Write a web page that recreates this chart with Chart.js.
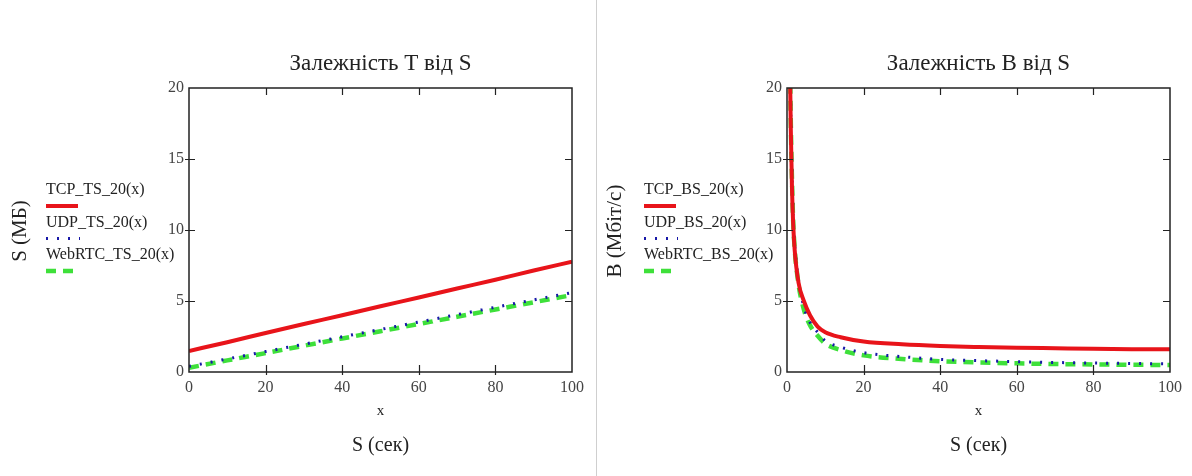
<!DOCTYPE html>
<html>
<head>
<meta charset="utf-8">
<script src="https://cdn.jsdelivr.net/npm/chart.js@4.4.1/dist/chart.umd.min.js"></script>
<style>
  body { margin: 0; background: #fff; width: 1192px; height: 476px; overflow: hidden; position: relative; }
  #left { position: absolute; left: 0; top: 0; }
  #right { position: absolute; left: 598px; top: 0; }
  #sep { position: absolute; left: 596px; top: 0; width: 1px; height: 476px; background: #cfcfcf; }
</style>
</head>
<body>
<canvas id="left" width="596" height="476"></canvas>
<div id="sep"></div>
<canvas id="right" width="594" height="476"></canvas>
<script>
// values
const sLeft = [0, 10, 20, 30, 40, 50, 60, 70, 80, 90, 100];
const tcpTS = [1.48, 2.1, 2.75, 3.38, 4.0, 4.63, 5.25, 5.88, 6.5, 7.15, 7.77];
const udpTS = [0.4, 0.92, 1.44, 1.96, 2.48, 3.0, 3.52, 4.04, 4.56, 5.08, 5.59];
const webrtcTS = [0.3, 0.82, 1.33, 1.85, 2.36, 2.87, 3.38, 3.89, 4.4, 4.91, 5.42];

const sRight = [0.8, 1, 1.3, 1.6, 2, 3, 4.4, 6, 8, 10, 14, 20, 30, 40, 50, 60, 70, 80, 90, 100];
const tcpBS = [21, 17, 13, 10.5, 8.6, 6.3, 5.0, 4.0, 3.2, 2.8, 2.45, 2.15, 1.95, 1.83, 1.76, 1.71, 1.67, 1.63, 1.61, 1.6];
const udpBS = [22, 18, 14, 11, 9, 6.5, 4.6, 3.5, 2.8, 2.2, 1.75, 1.36, 1.08, 0.89, 0.8, 0.73, 0.67, 0.63, 0.6, 0.58];
const webrtcBS = [21.5, 17.5, 13.6, 10.7, 8.7, 6.2, 4.4, 3.3, 2.55, 2.0, 1.55, 1.17, 0.92, 0.76, 0.67, 0.61, 0.56, 0.53, 0.51, 0.49];

const xStep = 20, xMax = 100;
const yStep = 5, yMax = 20;

const SERIF = '"Liberation Serif", "DejaVu Serif", serif';
const RED = '#e8141a', BLUE = '#1818a8', GREEN = '#3ee03a';

const pts = (xs, ys) => xs.map((x, i) => ({ x: x, y: ys[i] }));

// mathcad-like frame, titles and legend
const mcadPlugin = {
  id: 'mcad',
  afterDraw(chart, args, opts) {
    const { ctx, chartArea: { left, right, top, bottom }, scales: { x, y } } = chart;
    ctx.save();
    ctx.strokeStyle = '#222';
    ctx.lineWidth = 1.5;
    ctx.strokeRect(left, top, right - left, bottom - top);
    ctx.lineWidth = 1.2;
    ctx.beginPath();
    x.ticks.forEach(t => {
      const px = Math.round(x.getPixelForValue(t.value)) + 0.5;
      if (px <= left + 2 || px >= right - 2) return;
      ctx.moveTo(px, bottom + 3); ctx.lineTo(px, bottom - 7);
      ctx.moveTo(px, top); ctx.lineTo(px, top + 7);
    });
    y.ticks.forEach(t => {
      const py = Math.round(y.getPixelForValue(t.value)) + 0.5;
      if (py <= top + 2 || py >= bottom - 2) return;
      ctx.moveTo(left - 4, py); ctx.lineTo(left + 6, py);
      ctx.moveTo(right, py); ctx.lineTo(right - 7, py);
    });
    ctx.stroke();

    const cx = (left + right) / 2;
    ctx.fillStyle = '#222';
    ctx.textAlign = 'center';
    ctx.textBaseline = 'middle';
    ctx.font = '23px ' + SERIF;
    ctx.fillText(opts.title, cx, 64);
    ctx.font = '15px ' + SERIF;
    ctx.fillText('x', cx, 411);
    ctx.font = '20px ' + SERIF;
    ctx.fillText('S (сек)', cx, 446);

    ctx.save();
    ctx.translate(opts.yTitleX, 231);
    ctx.rotate(-Math.PI / 2);
    ctx.font = '21px ' + SERIF;
    ctx.fillText(opts.yTitle, 0, 0);
    ctx.restore();

    // legend: label above its line sample
    ctx.textAlign = 'left';
    ctx.font = '16px ' + SERIF;
    chart.data.datasets.forEach((ds, i) => {
      const ty = 190 + i * 32.5;
      ctx.fillStyle = '#222';
      ctx.fillText(ds.label, 46, ty);
      ctx.save();
      ctx.strokeStyle = ds.borderColor;
      ctx.lineWidth = ds.borderWidth;
      ctx.setLineDash(ds.borderDash || []);
      ctx.beginPath();
      ctx.moveTo(46, ty + 16);
      ctx.lineTo(i === 0 ? 78 : 80, ty + 16);
      ctx.stroke();
      ctx.restore();
    });
    ctx.restore();
  }
};

const makeChart = (node, xs, tcp, udp, web, names, title, yTitle, yTitleX) => {
  return new Chart(node, {
    type: 'line',
    data: {
      datasets: [
        { label: names[0], data: pts(xs, tcp), borderColor: RED, borderWidth: 4, pointRadius: 0, cubicInterpolationMode: 'monotone' },
        { label: names[1], data: pts(xs, udp), borderColor: BLUE, borderWidth: 3, borderDash: [2, 9], pointRadius: 0, cubicInterpolationMode: 'monotone' },
        { label: names[2], data: pts(xs, web), borderColor: GREEN, borderWidth: 4.5, borderDash: [10, 7], pointRadius: 0, cubicInterpolationMode: 'monotone' }
      ]
    },
    plugins: [mcadPlugin],
    options: {
      responsive: false,
      animation: false,
      layout: { padding: { left: 0, top: 88, right: node.width - 189 - 383, bottom: 0 } },
      plugins: {
        legend: { display: false },
        tooltip: { enabled: false },
        mcad: { title: title, yTitle: yTitle, yTitleX: yTitleX }
      },
      scales: {
        x: {
          type: 'linear',
          min: 0,
          max: xMax,
          afterFit: (s) => { s.height = 104; },
          grid: { display: false, drawTicks: false },
          border: { display: false },
          ticks: { stepSize: xStep, color: '#444', padding: 6, font: { family: SERIF, size: 16 } }
        },
        y: {
          min: 0,
          max: yMax,
          afterFit: (s) => { s.width = 189; },
          grid: { display: false, drawTicks: false },
          border: { display: false },
          ticks: { stepSize: yStep, color: '#444', padding: 5, font: { family: SERIF, size: 16 } }
        }
      }
    }
  });
};

makeChart(document.getElementById('left'), sLeft, tcpTS, udpTS, webrtcTS,
  ['TCP_TS_20(x)', 'UDP_TS_20(x)', 'WebRTC_TS_20(x)'],
  'Залежність T від S', 'S (МБ)', 20);

makeChart(document.getElementById('right'), sRight, tcpBS, udpBS, webrtcBS,
  ['TCP_BS_20(x)', 'UDP_BS_20(x)', 'WebRTC_BS_20(x)'],
  'Залежність B від S', 'B (Мбіт/с)', 17);
</script>
</body>
</html>
